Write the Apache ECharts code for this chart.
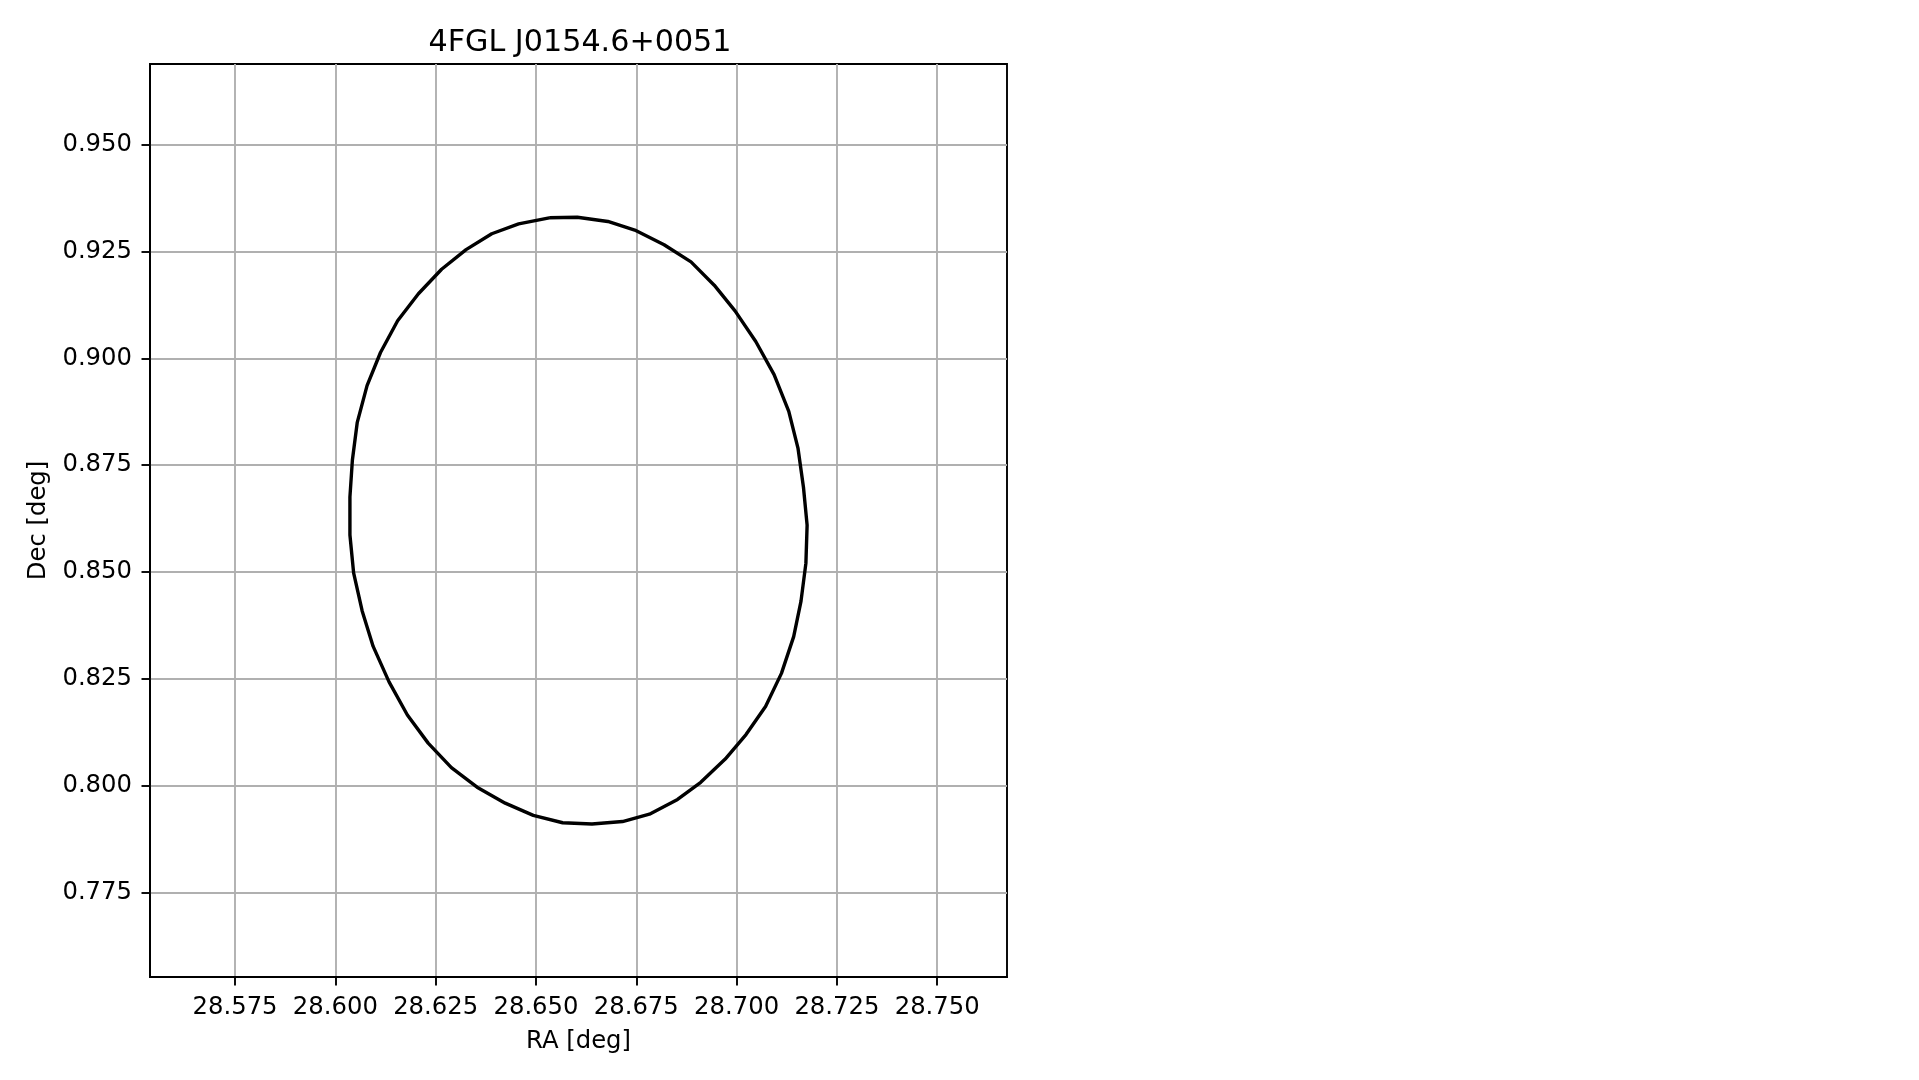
<!DOCTYPE html>
<html>
<head>
<meta charset="utf-8">
<script src="https://cdn.jsdelivr.net/npm/echarts@6/dist/echarts.min.js"></script>
<style>
html,body{margin:0;padding:0;background:#fff;}
#chart{width:1919px;height:1080px;}
</style>
</head>
<body>
<div id="chart"></div>
<script>
var titleText = '4FGL J0154.6+0051';
var xName = 'RA [deg]';
var yName = 'Dec [deg]';
var xTicks = [28.575, 28.600, 28.625, 28.650, 28.675, 28.700, 28.725, 28.750];
var yTicks = [0.775, 0.800, 0.825, 0.850, 0.875, 0.900, 0.925, 0.950];
var xRange = [28.5538, 28.7674];
var yRange = [0.7552, 0.9689];

// Ellipse contour vertices
var raValues = [
  28.65330, 28.66030, 28.66792, 28.67462, 28.68193, 28.68864, 28.69443, 28.69961,
  28.70478, 28.70935, 28.71301, 28.71530, 28.71667, 28.71758, 28.71728, 28.71606,
  28.71423, 28.71118, 28.70722, 28.70235, 28.69717, 28.69107, 28.68529, 28.67828,
  28.67158, 28.66396, 28.65665, 28.64933, 28.64233, 28.63532, 28.62892, 28.62313,
  28.61795, 28.61338, 28.60942, 28.60668, 28.60455, 28.60363, 28.60363, 28.60424,
  28.60546, 28.60790, 28.61125, 28.61552, 28.62070, 28.62648, 28.63258, 28.63898,
  28.64568, 28.65330
];
var decValues = [
  0.93290, 0.93304, 0.93204, 0.93003, 0.92659, 0.92258, 0.91713, 0.91112,
  0.90395, 0.89621, 0.88761, 0.87901, 0.86984, 0.86096, 0.85207, 0.84318,
  0.83487, 0.82627, 0.81853, 0.81194, 0.80621, 0.80076, 0.79675, 0.79331,
  0.79159, 0.79102, 0.79130, 0.79302, 0.79589, 0.79962, 0.80420, 0.80994,
  0.81653, 0.82427, 0.83258, 0.84089, 0.84978, 0.85866, 0.86755, 0.87615,
  0.88503, 0.89363, 0.90137, 0.90882, 0.91513, 0.92086, 0.92545, 0.92917,
  0.93147, 0.93290
];

var pts = raValues.map(function (x, i) { return [x, decValues[i]]; });

var FONT = 'DejaVu Sans';
var chart = echarts.init(document.getElementById('chart'), null, {renderer: 'canvas'});
chart.setOption({
  animation: false,
  backgroundColor: '#ffffff',
  title: {
    text: titleText,
    left: 575,
    top: 23.5,
    textAlign: 'center',
    textStyle: {fontFamily: FONT, fontSize: 30.2, fontWeight: 'normal', color: '#000'}
  },
  grid: {
    left: 150, right: 912, top: 64, bottom: 103,
    show: true, borderColor: '#000', borderWidth: 1.9, backgroundColor: 'transparent'
  },
  xAxis: {
    type: 'value',
    min: xRange[0], max: xRange[1],
    name: xName, nameLocation: 'middle', nameGap: 52.5,
    nameTextStyle: {fontFamily: FONT, fontSize: 24.3, color: '#000'},
    axisLine: {show: true, onZero: false, lineStyle: {color: '#000', width: 1.9}},
    axisTick: {show: true, length: 8.5, inside: false, customValues: xTicks, lineStyle: {color: '#000', width: 1.9}},
    axisLabel: {show: true, margin: 19, customValues: xTicks, fontFamily: FONT, fontSize: 24.3, color: '#000',
      formatter: function (v) { return v.toFixed(3); }},
    splitLine: {show: true, lineStyle: {color: '#b0b0b0', width: 1.9}}
  },
  yAxis: {
    type: 'value',
    min: yRange[0], max: yRange[1],
    name: yName, nameLocation: 'middle', nameGap: 99, nameRotate: 90,
    nameTextStyle: {fontFamily: FONT, fontSize: 24.3, color: '#000'},
    axisLine: {show: true, onZero: false, lineStyle: {color: '#000', width: 1.9}},
    axisTick: {show: true, length: 8.5, inside: false, customValues: yTicks, lineStyle: {color: '#000', width: 1.9}},
    axisLabel: {show: true, margin: 18, customValues: yTicks, fontFamily: FONT, fontSize: 24.3, color: '#000',
      formatter: function (v) { return v.toFixed(3); }},
    splitLine: {show: true, lineStyle: {color: '#b0b0b0', width: 1.9}}
  },
  series: [{
    type: 'line',
    data: pts,
    showSymbol: false,
    symbol: 'none',
    smooth: false,
    clip: true,
    lineStyle: {color: '#000', width: 3.4},
    z: 3
  }]
});
</script>
</body>
</html>
